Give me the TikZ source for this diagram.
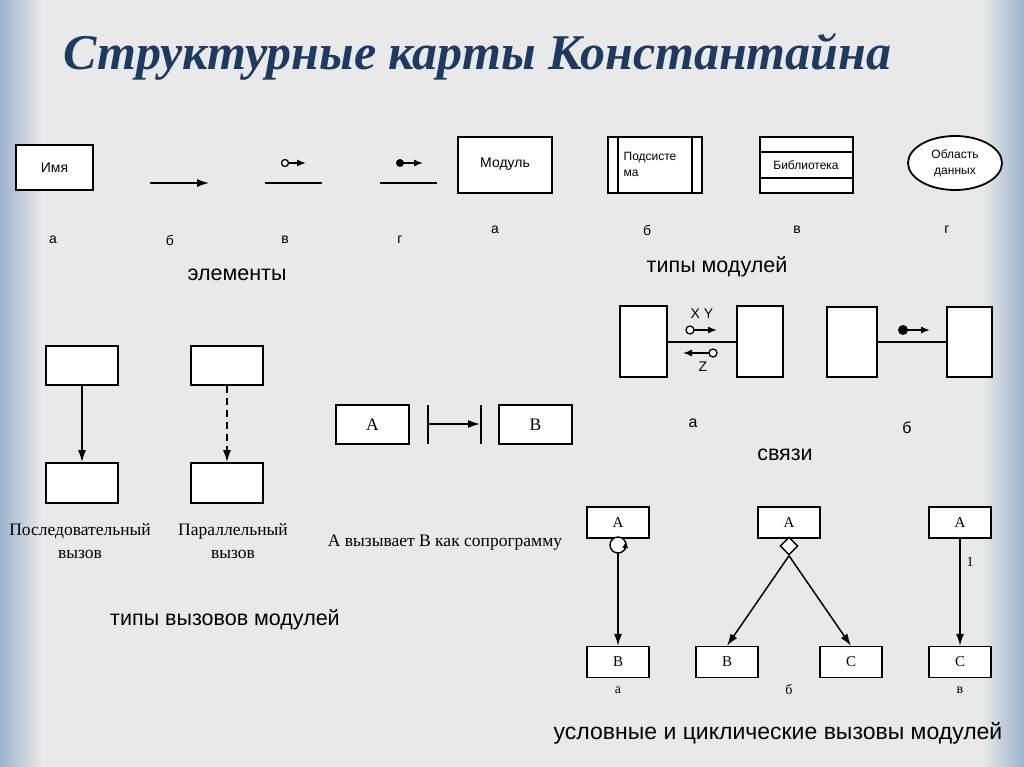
\documentclass[tikz,border=0pt]{standalone}
\usepackage{fontspec}
\setmainfont{Liberation Sans}
\newfontfamily\serifrm{Liberation Serif}
\usetikzlibrary{shapes.geometric,arrows.meta}
\definecolor{bg}{HTML}{E9E9E9}
\definecolor{band}{HTML}{9DB3CE}
\definecolor{titlec}{HTML}{1F3A60}
\tikzset{
  box/.style={draw,fill=white,line width=1.8pt},
  thin/.style={draw,fill=white,line width=1.4pt},
  arr/.style={-{Latex[length=12pt,width=8pt]},line width=1.5pt},
  sarr/.style={-{Latex[length=9pt,width=7pt]},line width=1.5pt},
  lbl/.style={font=\fontsize{14}{16}\selectfont},
  big/.style={font=\fontsize{21.5}{26}\selectfont},
  rm/.style={font=\serifrm\fontsize{17.5}{23}\selectfont},
}
\begin{document}
\begin{tikzpicture}[x=1pt,y=-1pt]
\useasboundingbox (0,0) rectangle (1024,767);
\fill[bg] (0,0) rectangle (1024,767);
\shade[left color=band,right color=bg] (0,0) rectangle (42,767);
\shade[left color=bg,right color=band] (982,0) rectangle (1024,767);
\node[text=titlec,font=\serifrm\bfseries\itshape\fontsize{50}{58}\selectfont,anchor=west,inner sep=0pt] (title) at (63,57) {Структурные карты Константайна};
% elements
\draw[box] (16,145) rectangle (93,190); \node[lbl] (imya) at (54.5,167.5) {Имя};
\coordinate (b1) at (150,183); \coordinate (b2) at (209,183);
\draw[arr] (b1) -- (b2);
\draw[line width=1.5pt] (265,183) -- (322,183);
\coordinate (v1) at (289,163); \coordinate (v2) at (306,163);
\draw[sarr] (v1) -- (v2);
\draw[fill=white,line width=1.3pt] (285,163) circle (3.5);
\draw[line width=1.5pt] (380,183) -- (437,183);
\coordinate (g1) at (400,163); \coordinate (g2) at (423,163);
\draw[sarr] (g1) -- (g2);
\fill (400,163) circle (4);
\foreach \x/\t in {53/а,170/б,285/в,400/г} \node[lbl] at (\x,240) {\t};
\node[big] (el) at (237,275) {элементы};
% module types
\draw[box] (458,137) rectangle (552,193); \node[lbl] (mod) at (505,164) {Модуль};
\draw[box] (608,137) rectangle (702,193); \draw[line width=1.8pt] (618,137)--(618,193) (692,137)--(692,193);
\node[font=\fontsize{12}{16}\selectfont,align=left] (ps) at (650,164) {Подсисте\\ма};
\draw[box] (760,137) rectangle (853,193); \draw[line width=1.8pt] (760,152)--(853,152) (760,178)--(853,178);
\node[font=\fontsize{12}{14}\selectfont] (lib) at (806,165) {Библиотека};
\node[box,ellipse,minimum width=94pt,minimum height=54pt,align=center,font=\fontsize{12}{16}\selectfont] (od) at (955,163) {Область\\данных};
\foreach \x/\t in {495/а,647/б,797/в,947/г} \node[lbl] at (\x,230) {\t};
\node[big] (tm) at (717,267) {типы модулей};
% connections
\draw[box] (620,306) rectangle (667,377); \draw[box] (737,306) rectangle (783,377);
\draw[line width=1.8pt] (667,342) -- (737,342);
\node[lbl] at (702,314) {X Y};
\draw[sarr] (694,330) -- (717,330);
\draw[fill=white,line width=1.3pt] (690,330) circle (4);
\draw[sarr] (709,353) -- (683,353);
\draw[fill=white,line width=1.3pt] (713,353) circle (4);
\node[lbl] at (703,367) {Z};
\draw[box] (827,307) rectangle (877,377); \draw[box] (947,307) rectangle (992,377);
\draw[line width=1.8pt] (877,342) -- (947,342);
\draw[sarr] (903,330) -- (930,330);
\fill (903,330) circle (5);
\node[font=\fontsize{16}{18}\selectfont] at (693,423) {а};
\node[font=\fontsize{16}{18}\selectfont] at (907,428) {б};
\node[big] at (785,455) {связи};
% call types
\node[box,minimum width=72pt,minimum height=39pt] (s1) at (82,365.5) {};
\node[box,minimum width=72pt,minimum height=40pt] (s2) at (82,483) {};
\draw[arr] (s1) -- (s2);
\node[box,minimum width=72pt,minimum height=39pt] (p1) at (227,365.5) {};
\node[box,minimum width=72pt,minimum height=40pt] (p2) at (227,483) {};
\draw[arr,dash pattern=on 7pt off 5pt] (p1) -- (p2);
\node[rm,align=center] at (80,541) {Последовательный\\вызов};
\node[rm,align=center] at (233,541) {Параллельный\\вызов};
\node[thin,minimum width=73pt,minimum height=39pt,rm] (ca) at (372.5,424.5) {A};
\node[thin,minimum width=73pt,minimum height=39pt,rm] (cb) at (535.5,424.5) {B};
\draw[line width=1.5pt] (428,405) -- (428,444) (481,405) -- (481,444);
\coordinate (c1) at (428,424); \coordinate (c2) at (480,424);
\draw[arr] (c1) -- (c2);
\node[rm] at (445,543) {А вызывает В как сопрограмму};
\node[big] at (225,620) {типы вызовов модулей};
% conditional
\tikzset{sb/.style={thin,minimum width=62pt,minimum height=31pt,font=\serifrm\fontsize{15}{17}\selectfont}}
\node[sb] (a1) at (618,522.5) {A};
\node[sb] (b1n) at (618,662) {B};
\draw[line width=1.4pt,fill=white] (618,545) circle (8);
\draw[-{Latex[length=7pt,width=6pt]},line width=1.2pt] (625,550) -- (626,541);
\draw[arr] (618,553) -- (b1n);
\node[sb] (a2) at (789,522.5) {A};
\node[thin,diamond,minimum width=18pt,minimum height=18pt,inner sep=0pt] (dm) at (789,546) {};
\node[sb] (b2n) at (727,662) {B};
\node[sb] (c2n) at (851,662) {C};
\draw[arr] (dm.south) -- (b2n.north);
\draw[arr] (dm.south) -- (c2n.north);
\node[sb] (a3) at (960,522.5) {A};
\node[sb] (c3) at (960,662) {C};
\draw[arr] (a3) -- (c3);
\node[font=\serifrm\fontsize{14}{16}\selectfont] at (970,562) {1};
\foreach \x/\t in {618/а,789/б,960/в} \node[font=\serifrm\fontsize{14}{16}\selectfont] at (\x,690) {\t};
\node[big,font=\fontsize{23}{27}\selectfont] at (778,733) {условные и циклические вызовы модулей};
\end{tikzpicture}
\end{document}
